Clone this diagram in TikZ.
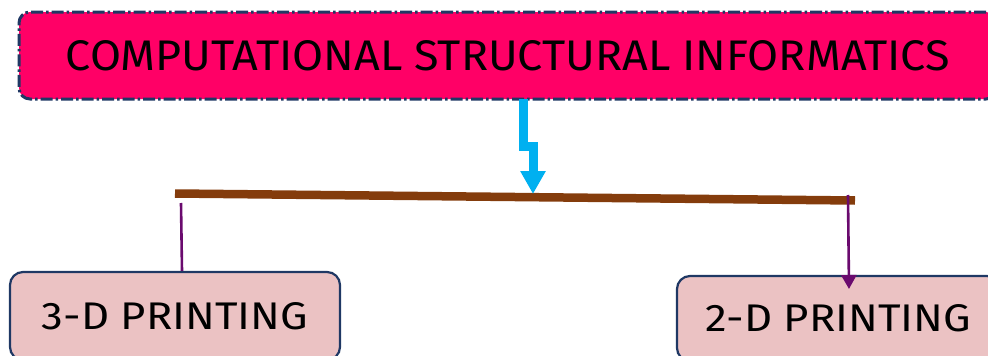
\documentclass[tikz,border=0pt]{standalone}
\usepackage{fontspec}
\setmainfont{Fira Sans}
\usetikzlibrary{arrows.meta}
\definecolor{headfill}{HTML}{FF0066}
\definecolor{navy}{HTML}{1F3864}
\definecolor{skyblue}{HTML}{00B0F0}
\definecolor{bark}{HTML}{843C0C}
\definecolor{plum}{HTML}{6A0A6E}
\definecolor{rosefill}{HTML}{EBC2C3}
\tikzset{
  headbox/.style={draw=navy, line width=3pt, fill=headfill, rounded corners=11pt,
    dash pattern=on 12pt off 3pt on 2.5pt off 3pt, inner sep=0pt},
  leafbox/.style={draw=navy, line width=2.2pt, fill=rosefill, rounded corners=13pt, inner sep=0pt},
  flowarrow/.style={draw=skyblue, line width=9pt, miter limit=4,
    -{Triangle[width=24pt,length=23pt]}},
  bar/.style={draw=bark, line width=8.5pt},
  branch/.style={draw=plum, line width=2.6pt},
  brancharrow/.style={branch, -{Triangle[width=15pt,length=14pt]}}
}
\begin{document}
\begin{tikzpicture}[x=1pt,y=-1pt]
  \useasboundingbox (0,0) rectangle (988,356);
  \clip (0,0) rectangle (988,356);

  % title box
  \node[headbox, minimum width=978pt, minimum height=87pt] (title) at (508,55.5)
    {\resizebox{884pt}{30pt}{COMPUTATIONAL STRUCTURAL INFORMATICS}};

  % leaf boxes
  \node[leafbox, minimum width=330pt, minimum height=88pt] (three) at (175,316)
    {\resizebox{266pt}{27pt}{3-D PRINTING}};
  \node[leafbox, minimum width=323pt, minimum height=85pt] (two) at (838.5,318.5)
    {\resizebox{265pt}{27pt}{2-D PRINTING}};

  % horizontal bar
  \coordinate (barL) at (175,193.5);
  \coordinate (barR) at (855,200.5);
  \draw[bar] (barL) -- (barR);

  % arrow from title down to the bar
  \coordinate (drop) at (523.5,99);
  \coordinate (jogA) at (523.5,146.5);
  \coordinate (jogB) at (533,146.5);
  \coordinate (hit) at (533,194);
  \draw[flowarrow] (drop) -- (jogA) -- (jogB) -- (hit);

  % branches to the leaves
  \coordinate (forkL) at (181,203);
  \coordinate (forkR) at (848,195);
  \coordinate (tipR) at (849,289);
  \draw[branch] (forkL) -- (three.north -| 182,0);
  \draw[brancharrow] (forkR) -- (tipR);
\end{tikzpicture}
\end{document}
